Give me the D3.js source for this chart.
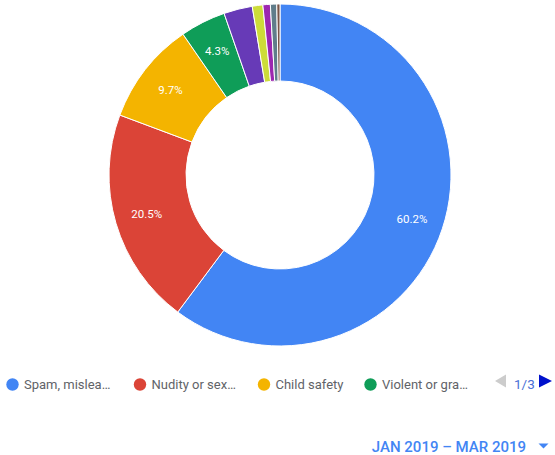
<!DOCTYPE html>
<html><head><meta charset="utf-8">
<script src="https://cdn.jsdelivr.net/npm/d3@7"></script>
<style>body{margin:0;background:#fff;}svg{display:block;font-family:Roboto,Arial,sans-serif;}</style>
</head><body><svg id="c" width="555" height="455"></svg>
<script>
const categories = ["Spam, mislea…","Nudity or sex…","Child safety","Violent or gra…","Other 5","Other 6","Other 7","Other 8","Other 9"];
const values = [60.2, 20.5, 9.7, 4.3, 2.7, 1.0, 0.7, 0.6, 0.3];
const colors = ["#4285f4","#db4437","#f4b400","#0f9d58","#673ab7","#cddc39","#9c27b0","#607d8b","#795548"];
const legendCount = 4;
const pageLabel = "1/3";
const dateLabel = "JAN 2019 – MAR 2019";

const svg = d3.select("#c");
const cx = 280, cy = 175, R = 171, r = 94, labelR = 139;
const data = categories.map((c,i)=>({cat:c, v:values[i], col:colors[i]}));
const pie = d3.pie().sort(null).value(d=>d.v);
const arcs = pie(data);
const arc = d3.arc().innerRadius(r).outerRadius(R);
const larc = d3.arc().innerRadius(labelR).outerRadius(labelR);
const g = svg.append("g").attr("transform",`translate(${cx},${cy})`);
g.selectAll("path").data(arcs).join("path")
  .attr("d",arc).attr("fill",d=>d.data.col).attr("stroke","#fff").attr("stroke-width",1);
g.selectAll("text").data(arcs.filter(d=>d.data.v>=4)).join("text")
  .attr("transform",d=>`translate(${larc.centroid(d)})`)
  .attr("text-anchor","middle").attr("dy","0.36em")
  .attr("fill","#fff").attr("font-size",11.5)
  .text(d=>d3.format(".1f")(d.data.v)+"%");

// legend
const lx = [12.5, 140, 264, 370.5];
const ly = 384.5;
const lg = svg.append("g");
data.slice(0,legendCount).forEach((d,i)=>{
  lg.append("circle").attr("cx",lx[i]).attr("cy",ly).attr("r",6.2).attr("fill",d.col);
  lg.append("text").attr("x",lx[i]+11.5).attr("y",ly+4.5).attr("font-size",13).attr("fill","#5f6368").text(d.cat);
});
// paging
lg.append("path").attr("d","M495,381 L506,374.5 L506,387.5 Z").attr("fill","#cccccc");
lg.append("text").attr("x",514).attr("y",ly+4.5).attr("font-size",13.5).attr("fill","#4a6fd6").text(pageLabel);
lg.append("path").attr("d","M539,374.5 L552,381 L539,387.5 Z").attr("fill","#0011cc");

// date selector
svg.append("text").attr("x",526).attr("y",452).attr("text-anchor","end")
  .attr("font-size",15).attr("font-weight",500).attr("fill","#4285f4").text(dateLabel);
svg.append("path").attr("d","M538.5,443.5 L548.5,443.5 L543.5,448.5 Z").attr("fill","#4285f4");
</script></body></html>
